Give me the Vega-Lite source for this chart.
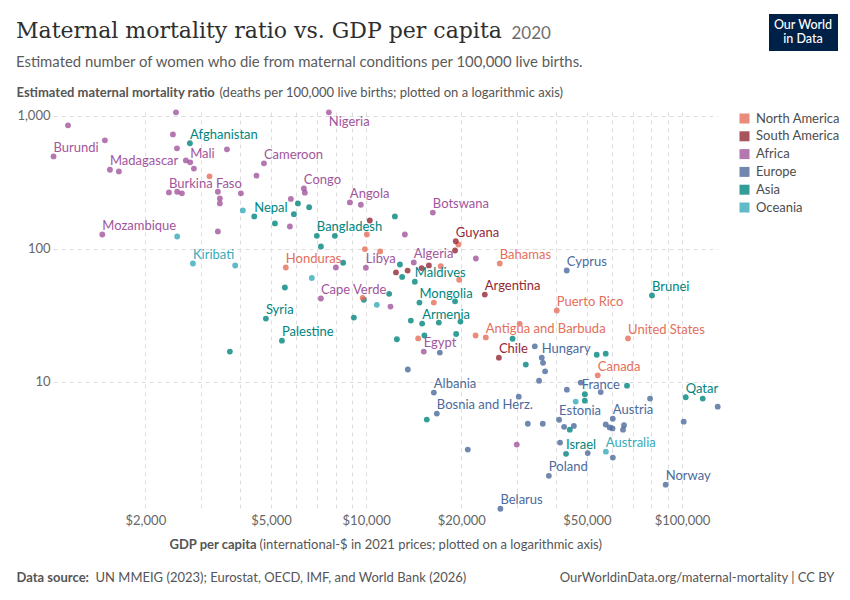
{
  "$schema": "https://vega.github.io/schema/vega-lite/v6.json",
  "width": 665,
  "height": 397,
  "autosize": {"type": "none"},
  "padding": {"left": 53, "top": 112, "right": 132, "bottom": 91},
  "background": "white",
  "title": {
    "text": "Maternal mortality ratio vs. GDP per capita",
    "subtitle": "Estimated number of women who die from maternal conditions per 100,000 live births.",
    "anchor": "start",
    "frame": "group",
    "dx": -37,
    "dy": 61,
    "font": "DejaVu Serif",
    "fontSize": 22,
    "fontWeight": "normal",
    "color": "#2e2e2e",
    "subtitleFont": "Lato",
    "subtitleFontSize": 14.9,
    "subtitleColor": "#5b5b5b",
    "subtitlePadding": 12
  },
  "data": {
    "values": [
      {"gdp": 1138, "mmr": 846, "region": "Africa"},
      {"gdp": 2500, "mmr": 1059, "region": "Africa"},
      {"gdp": 1489, "mmr": 652, "region": "Africa"},
      {"country": "Burundi", "gdp": 1024, "mmr": 494, "region": "Africa"},
      {"gdp": 2445, "mmr": 723, "region": "Africa"},
      {"gdp": 2518, "mmr": 568, "region": "Africa"},
      {"gdp": 3625, "mmr": 558, "region": "Africa"},
      {"gdp": 2687, "mmr": 461, "region": "Africa"},
      {"country": "Mali", "gdp": 2773, "mmr": 446, "region": "Africa"},
      {"gdp": 2849, "mmr": 400, "region": "Africa"},
      {"country": "Madagascar", "gdp": 1545, "mmr": 392, "region": "Africa"},
      {"gdp": 1649, "mmr": 381, "region": "Africa"},
      {"country": "Cameroon", "gdp": 4747, "mmr": 438, "region": "Africa"},
      {"gdp": 4495, "mmr": 354, "region": "Africa"},
      {"country": "Burkina Faso", "gdp": 2375, "mmr": 265, "region": "Africa"},
      {"gdp": 2522, "mmr": 268, "region": "Africa"},
      {"gdp": 2610, "mmr": 261, "region": "Africa"},
      {"gdp": 3393, "mmr": 268, "region": "Africa"},
      {"gdp": 4013, "mmr": 261, "region": "Africa"},
      {"gdp": 3442, "mmr": 239, "region": "Africa"},
      {"gdp": 3442, "mmr": 219, "region": "Africa"},
      {"gdp": 5776, "mmr": 237, "region": "Africa"},
      {"gdp": 5735, "mmr": 147, "region": "Africa"},
      {"country": "Mozambique", "gdp": 1461, "mmr": 128, "region": "Africa"},
      {"gdp": 3393, "mmr": 135, "region": "Africa"},
      {"country": "Nigeria", "gdp": 7620, "mmr": 1059, "region": "Africa"},
      {"country": "Congo", "gdp": 6351, "mmr": 284, "region": "Africa"},
      {"gdp": 6397, "mmr": 264, "region": "Africa"},
      {"country": "Angola", "gdp": 8880, "mmr": 223, "region": "Africa"},
      {"gdp": 9620, "mmr": 214, "region": "Africa"},
      {"country": "Botswana", "gdp": 16260, "mmr": 187, "region": "Africa"},
      {"gdp": 13260, "mmr": 128, "region": "Africa"},
      {"gdp": 22250, "mmr": 84.5, "region": "Africa"},
      {"gdp": 8020, "mmr": 72.3, "region": "Africa"},
      {"country": "Libya", "gdp": 9980, "mmr": 72, "region": "Africa"},
      {"country": "Algeria", "gdp": 14150, "mmr": 78.9, "region": "Africa"},
      {"country": "Cape Verde", "gdp": 7190, "mmr": 42.3, "region": "Africa"},
      {"gdp": 11940, "mmr": 36.8, "region": "Africa"},
      {"country": "Egypt", "gdp": 15220, "mmr": 16.9, "region": "Africa"},
      {"gdp": 29980, "mmr": 3.38, "region": "Africa"},
      {"country": "Afghanistan", "gdp": 2767, "mmr": 620, "region": "Asia"},
      {"country": "Nepal", "gdp": 4423, "mmr": 175, "region": "Asia"},
      {"gdp": 5143, "mmr": 155, "region": "Asia"},
      {"gdp": 5906, "mmr": 182, "region": "Asia"},
      {"gdp": 6081, "mmr": 219, "region": "Asia"},
      {"gdp": 6600, "mmr": 205, "region": "Asia"},
      {"country": "Bangladesh", "gdp": 6980, "mmr": 125, "region": "Asia"},
      {"gdp": 7960, "mmr": 125, "region": "Asia"},
      {"gdp": 7190, "mmr": 104, "region": "Asia"},
      {"gdp": 12330, "mmr": 175, "region": "Asia"},
      {"gdp": 8455, "mmr": 78.5, "region": "Asia"},
      {"gdp": 12790, "mmr": 76.2, "region": "Asia"},
      {"gdp": 13000, "mmr": 61.5, "region": "Asia"},
      {"country": "Maldives", "gdp": 14260, "mmr": 56.5, "region": "Asia"},
      {"gdp": 5530, "mmr": 51.2, "region": "Asia"},
      {"gdp": 9833, "mmr": 41.4, "region": "Asia"},
      {"gdp": 11825, "mmr": 45.9, "region": "Asia"},
      {"country": "Mongolia", "gdp": 14750, "mmr": 39.4, "region": "Asia"},
      {"gdp": 19120, "mmr": 40.3, "region": "Asia"},
      {"country": "Syria", "gdp": 4815, "mmr": 29.9, "region": "Asia"},
      {"gdp": 9143, "mmr": 30.4, "region": "Asia"},
      {"gdp": 13850, "mmr": 28.9, "region": "Asia"},
      {"country": "Armenia", "gdp": 15040, "mmr": 27.4, "region": "Asia"},
      {"gdp": 16990, "mmr": 27.9, "region": "Asia"},
      {"gdp": 19880, "mmr": 28.4, "region": "Asia"},
      {"country": "Palestine", "gdp": 5412, "mmr": 20.4, "region": "Asia"},
      {"gdp": 3703, "mmr": 16.9, "region": "Asia"},
      {"gdp": 12510, "mmr": 20.9, "region": "Asia"},
      {"gdp": 15290, "mmr": 22.3, "region": "Asia"},
      {"gdp": 19270, "mmr": 22.9, "region": "Asia"},
      {"gdp": 29080, "mmr": 21.1, "region": "Asia"},
      {"gdp": 32020, "mmr": 13.5, "region": "Asia"},
      {"gdp": 53700, "mmr": 16.0, "region": "Asia"},
      {"gdp": 57350, "mmr": 16.3, "region": "Asia"},
      {"country": "Brunei", "gdp": 80350, "mmr": 44.6, "region": "Asia"},
      {"gdp": 66970, "mmr": 9.37, "region": "Asia"},
      {"gdp": 49230, "mmr": 8.08, "region": "Asia"},
      {"gdp": 49230, "mmr": 7.23, "region": "Asia"},
      {"country": "Qatar", "gdp": 102730, "mmr": 7.67, "region": "Asia"},
      {"gdp": 116290, "mmr": 7.49, "region": "Asia"},
      {"gdp": 15560, "mmr": 5.21, "region": "Asia"},
      {"gdp": 44130, "mmr": 4.38, "region": "Asia"},
      {"country": "Israel", "gdp": 42930, "mmr": 2.88, "region": "Asia"},
      {"country": "Cyprus", "gdp": 43150, "mmr": 68.7, "region": "Europe"},
      {"gdp": 17110, "mmr": 16.6, "region": "Europe"},
      {"country": "Hungary", "gdp": 35970, "mmr": 15.2, "region": "Europe"},
      {"gdp": 34190, "mmr": 18.5, "region": "Europe"},
      {"gdp": 36310, "mmr": 13.9, "region": "Europe"},
      {"gdp": 36860, "mmr": 12.0, "region": "Europe"},
      {"gdp": 35280, "mmr": 10.2, "region": "Europe"},
      {"gdp": 13550, "mmr": 12.4, "region": "Europe"},
      {"country": "Albania", "gdp": 16380, "mmr": 8.31, "region": "Europe"},
      {"gdp": 30420, "mmr": 7.75, "region": "Europe"},
      {"country": "Bosnia and Herz.", "gdp": 16740, "mmr": 5.78, "region": "Europe"},
      {"gdp": 32490, "mmr": 4.85, "region": "Europe"},
      {"gdp": 36240, "mmr": 4.85, "region": "Europe"},
      {"country": "Estonia", "gdp": 40820, "mmr": 5.2, "region": "Europe"},
      {"gdp": 42340, "mmr": 4.6, "region": "Europe"},
      {"gdp": 45450, "mmr": 4.67, "region": "Europe"},
      {"gdp": 47790, "mmr": 9.88, "region": "Europe"},
      {"gdp": 43200, "mmr": 8.74, "region": "Europe"},
      {"country": "France", "gdp": 55290, "mmr": 8.38, "region": "Europe"},
      {"gdp": 79210, "mmr": 7.49, "region": "Europe"},
      {"gdp": 129700, "mmr": 6.52, "region": "Europe"},
      {"country": "Austria", "gdp": 60360, "mmr": 5.29, "region": "Europe"},
      {"gdp": 57350, "mmr": 4.79, "region": "Europe"},
      {"gdp": 59030, "mmr": 4.55, "region": "Europe"},
      {"gdp": 60260, "mmr": 4.47, "region": "Europe"},
      {"gdp": 65530, "mmr": 4.73, "region": "Europe"},
      {"gdp": 65050, "mmr": 4.38, "region": "Europe"},
      {"gdp": 101250, "mmr": 5.03, "region": "Europe"},
      {"gdp": 20980, "mmr": 3.1, "region": "Europe"},
      {"gdp": 41110, "mmr": 3.5, "region": "Europe"},
      {"gdp": 50290, "mmr": 2.92, "region": "Europe"},
      {"gdp": 60400, "mmr": 2.7, "region": "Europe"},
      {"country": "Poland", "gdp": 37880, "mmr": 1.97, "region": "Europe"},
      {"country": "Norway", "gdp": 88800, "mmr": 1.69, "region": "Europe"},
      {"country": "Belarus", "gdp": 26610, "mmr": 1.115, "region": "Europe"},
      {"gdp": 3192, "mmr": 350, "region": "North America"},
      {"country": "Honduras", "gdp": 5567, "mmr": 72.3, "region": "North America"},
      {"gdp": 10050, "mmr": 128, "region": "North America"},
      {"gdp": 9906, "mmr": 99.5, "region": "North America"},
      {"gdp": 11075, "mmr": 95.5, "region": "North America"},
      {"gdp": 19590, "mmr": 107.7, "region": "North America"},
      {"country": "Bahamas", "gdp": 26490, "mmr": 77.5, "region": "North America"},
      {"gdp": 17230, "mmr": 73.9, "region": "North America"},
      {"gdp": 19700, "mmr": 58.5, "region": "North America"},
      {"gdp": 9748, "mmr": 42.8, "region": "North America"},
      {"gdp": 16380, "mmr": 39.4, "region": "North America"},
      {"country": "Puerto Rico", "gdp": 40130, "mmr": 34.4, "region": "North America"},
      {"gdp": 30640, "mmr": 27.3, "region": "North America"},
      {"gdp": 22210, "mmr": 22.3, "region": "North America"},
      {"country": "Antigua and Barbuda", "gdp": 23920, "mmr": 21.6, "region": "North America"},
      {"gdp": 14610, "mmr": 21.2, "region": "North America"},
      {"country": "United States", "gdp": 67460, "mmr": 21.2, "region": "North America"},
      {"country": "Canada", "gdp": 54100, "mmr": 11.2, "region": "North America"},
      {"gdp": 10270, "mmr": 163, "region": "South America"},
      {"country": "Guyana", "gdp": 19220, "mmr": 113.9, "region": "South America"},
      {"gdp": 19120, "mmr": 97, "region": "South America"},
      {"gdp": 15800, "mmr": 75, "region": "South America"},
      {"gdp": 14980, "mmr": 71.6, "region": "South America"},
      {"gdp": 12430, "mmr": 66.4, "region": "South America"},
      {"gdp": 13530, "mmr": 68.6, "region": "South America"},
      {"country": "Argentina", "gdp": 23750, "mmr": 45.3, "region": "South America"},
      {"country": "Chile", "gdp": 26320, "mmr": 15.2, "region": "South America"},
      {"gdp": 4070, "mmr": 194, "region": "Oceania"},
      {"gdp": 2522, "mmr": 123.7, "region": "Oceania"},
      {"country": "Kiribati", "gdp": 2829, "mmr": 77.5, "region": "Oceania"},
      {"gdp": 3849, "mmr": 74.9, "region": "Oceania"},
      {"gdp": 6731, "mmr": 60.3, "region": "Oceania"},
      {"gdp": 10810, "mmr": 37.9, "region": "Oceania"},
      {"gdp": 46080, "mmr": 7.11, "region": "Oceania"},
      {"country": "Australia", "gdp": 57400, "mmr": 2.99, "region": "Oceania"}
    ]
  },
  "layer": [
    {
      "mark": {"type": "circle", "size": 34, "opacity": 0.8},
      "encoding": {
        "x": {
          "field": "gdp",
          "type": "quantitative",
          "scale": {"type": "log", "domain": [1020, 130000], "nice": false},
          "axis": {
            "values": [2000, 3000, 4000, 5000, 6000, 7000, 8000, 9000, 10000, 20000, 30000, 40000, 50000, 60000, 70000, 80000, 90000, 100000],
            "labelExpr": "indexof([2000, 5000, 10000, 20000, 50000, 100000], datum.value) >= 0 ? '$' + format(datum.value, ',') : ''",
            "labelPadding": 5,
            "grid": true,
            "title": "GDP per capita",
            "titleFontWeight": "bold",
            "titleX": 116,
            "titleY": 39,
            "titleAlign": "left",
            "titleBaseline": "alphabetic"
          }
        },
        "y": {
          "field": "mmr",
          "type": "quantitative",
          "scale": {"type": "log", "domain": [1.11, 1065], "nice": false},
          "axis": {
            "values": [10, 100, 1000],
            "format": ",",
            "labelPadding": 3,
            "grid": true,
            "title": "Estimated maternal mortality ratio",
            "titleFontWeight": "bold",
            "titleAngle": 0,
            "titleX": -37,
            "titleY": -16,
            "titleAlign": "left",
            "titleBaseline": "alphabetic"
          }
        },
        "color": {
          "field": "region",
          "type": "nominal",
          "scale": {
            "domain": ["North America", "South America", "Africa", "Europe", "Asia", "Oceania"],
            "range": ["#E56E5A", "#932834", "#A2559C", "#4C6A9C", "#00847E", "#38AABA"]
          },
          "legend": {
            "orient": "none",
            "legendX": 685,
            "legendY": 0,
            "title": null,
            "symbolType": "square",
            "symbolSize": 100,
            "symbolOpacity": 0.8,
            "symbolStrokeWidth": 0,
            "labelFont": "Lato",
            "labelFontSize": 13,
            "labelColor": "#4d4d4d",
            "labelOffset": 5,
            "rowPadding": 3.8
          }
        }
      }
    },
    {
      "transform": [{"filter": "isValid(datum.country) && datum.country !== 'France' && datum.country !== 'Nigeria'"}],
      "mark": {"type": "text", "align": "left", "baseline": "middle", "dy": -8.5, "fontSize": 13, "font": "Lato"},
      "encoding": {
        "x": {
          "field": "gdp",
          "type": "quantitative",
          "scale": {"type": "log", "domain": [1020, 130000], "nice": false},
          "axis": {
            "orient": "bottom", "labels": false, "ticks": false, "domain": false, "grid": false,
            "title": "(international-$ in 2021 prices; plotted on a logarithmic axis)",
            "titleFontWeight": "normal",
            "titleX": 206,
            "titleY": 39,
            "titleAlign": "left",
            "titleBaseline": "alphabetic"
          }
        },
        "y": {
          "field": "mmr",
          "type": "quantitative",
          "scale": {"type": "log", "domain": [1.11, 1065], "nice": false},
          "axis": {
            "orient": "left", "labels": false, "ticks": false, "domain": false, "grid": false,
            "title": "(deaths per 100,000 live births; plotted on a logarithmic axis)",
            "titleFontWeight": "normal",
            "titleAngle": 0,
            "titleX": 166,
            "titleY": -16,
            "titleAlign": "left",
            "titleBaseline": "alphabetic"
          }
        },
        "text": {"field": "country"},
        "color": {
          "field": "region",
          "type": "nominal",
          "scale": {
            "domain": ["North America", "South America", "Africa", "Europe", "Asia", "Oceania"],
            "range": ["#E56E5A", "#932834", "#A2559C", "#4C6A9C", "#00847E", "#38AABA"]
          },
          "legend": null
        },
        "opacity": {
          "datum": "Our World in Data",
          "type": "nominal",
          "scale": {"range": [1, 1]},
          "legend": {
            "orient": "none",
            "legendX": 716,
            "legendY": -98,
            "title": ["Our World", "in Data"],
            "titleColor": "white",
            "titleFont": "Lato",
            "titleFontSize": 12.5,
            "titleFontWeight": 500,
            "titleAlign": "center",
            "titleAnchor": "middle",
            "titleLineHeight": 14,
            "titlePadding": 0,
            "fillColor": "#002147",
            "padding": 5,
            "symbolSize": 0,
            "symbolOpacity": 0,
            "symbolStrokeWidth": 0,
            "labelExpr": "''",
            "labelFontSize": 1,
            "labelOpacity": 0,
            "labelOffset": 0,
            "rowPadding": 0
          }
        }
      }
    },
    {
      "transform": [{"filter": "datum.country === 'France'"}],
      "mark": {"type": "text", "align": "center", "baseline": "middle", "dy": -7, "fontSize": 13, "font": "Lato", "color": "#4C6A9C"},
      "encoding": {
        "x": {
          "field": "gdp",
          "type": "quantitative",
          "scale": {"type": "log", "domain": [1020, 130000], "nice": false},
          "axis": {
            "orient": "bottom", "labels": false, "ticks": false, "domain": false, "grid": false,
            "title": "Data source:",
            "titleFontWeight": "bold",
            "titleX": -37,
            "titleY": 72,
            "titleAlign": "left",
            "titleBaseline": "alphabetic"
          }
        },
        "y": {
          "field": "mmr",
          "type": "quantitative",
          "scale": {"type": "log", "domain": [1.11, 1065], "nice": false},
          "axis": {
            "orient": "left", "labels": false, "ticks": false, "domain": false, "grid": false,
            "title": "2020",
            "titleFontWeight": "normal",
            "titleFontSize": 17,
            "titleColor": "#6e6e6e",
            "titleAngle": 0,
            "titleX": 458,
            "titleY": -74,
            "titleAlign": "left",
            "titleBaseline": "alphabetic"
          }
        },
        "text": {"field": "country"}
      }
    },
    {
      "transform": [{"filter": "datum.country === 'Nigeria'"}],
      "mark": {"type": "text", "align": "left", "baseline": "middle", "dy": 10, "fontSize": 13, "font": "Lato", "color": "#A2559C"},
      "encoding": {
        "x": {
          "field": "gdp",
          "type": "quantitative",
          "scale": {"type": "log", "domain": [1020, 130000], "nice": false},
          "axis": {
            "orient": "bottom", "labels": false, "ticks": false, "domain": false, "grid": false,
            "title": "UN MMEIG (2023); Eurostat, OECD, IMF, and World Bank (2026)",
            "titleFontWeight": "normal",
            "titleX": 42,
            "titleY": 72,
            "titleAlign": "left",
            "titleBaseline": "alphabetic"
          }
        },
        "y": {
          "field": "mmr",
          "type": "quantitative",
          "scale": {"type": "log", "domain": [1.11, 1065], "nice": false},
          "axis": {
            "orient": "right", "labels": false, "ticks": false, "domain": false, "grid": false,
            "title": "OurWorldinData.org/maternal-mortality | CC BY",
            "titleFontWeight": "normal",
            "titleAngle": 0,
            "titleX": 116,
            "titleY": 469,
            "titleAlign": "right",
            "titleBaseline": "alphabetic"
          }
        },
        "text": {"field": "country"}
      }
    }
  ],
  "resolve": {
    "scale": {"color": "independent"},
    "axis": {"x": "independent", "y": "independent"}
  },
  "config": {
    "font": "Lato",
    "view": {"stroke": null},
    "axis": {
      "domain": false,
      "ticks": false,
      "labelFont": "Lato",
      "labelFontSize": 13,
      "labelColor": "#666666",
      "labelFlush": false,
      "labelOverlap": false,
      "gridColor": "#dddddd",
      "gridDash": [4, 4],
      "gridWidth": 1,
      "titleFont": "Lato",
      "titleFontSize": 13,
      "titleColor": "#555555"
    }
  }
}
